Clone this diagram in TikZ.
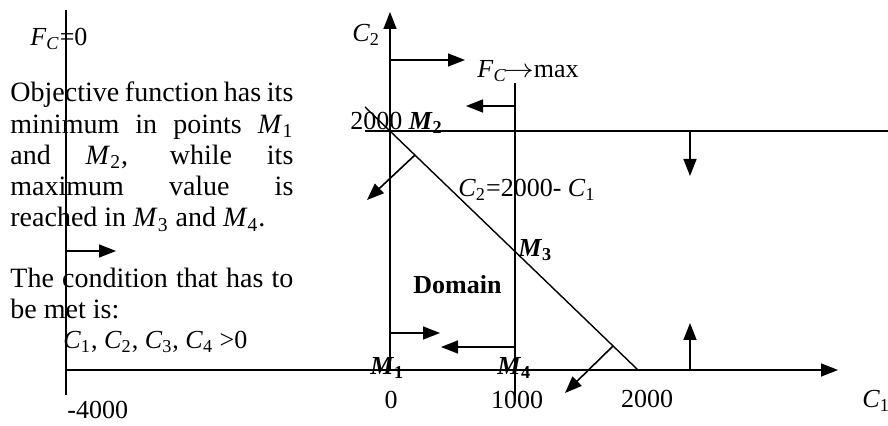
\documentclass[tikz,border=0pt]{standalone}
\usepackage{fontspec}
\setmainfont{Liberation Serif}
\usetikzlibrary{arrows.meta}
\newcommand\myMb[1]{\textbf{\textit{M}}\textsubscript{\textbf{#1}}}
\newcommand\myM[1]{\textit{M}\textsubscript{#1}}
\newcommand\myC[1]{\textit{C}\textsubscript{#1}}
\newcommand\myF{\textit{F}\textsubscript{\textit{C}}}
\tikzset{
  lbl/.style={inner sep=0pt, anchor=base west, font=\fontsize{13}{15.5}\selectfont},
  tlbl/.style={inner sep=0pt, anchor=base west, font=\fontsize{14}{15.5}\selectfont},
  clbl/.style={inner sep=0pt, anchor=base, font=\fontsize{13}{15.5}\selectfont},
  ln/.style={line width=0.8pt},
  arr/.style={line width=0.8pt, -{Triangle[length=8.5pt,width=6.5pt]}},
}
\newcommand\jline[1]{\makebox[141.5pt][s]{#1}}
\begin{document}
\begin{tikzpicture}[x=0.5pt,y=-0.5pt]
\useasboundingbox (0,0) rectangle (888,426);
% named points
\coordinate (Ltop) at (66,10);
\coordinate (Lbot) at (66,395);
\coordinate (Xs) at (66,370);
\coordinate (Xe) at (838,370);
\coordinate (O) at (390,370);
\coordinate (Ytop) at (390,12);
\coordinate (Vt) at (515,83);
\coordinate (Vb) at (515,400);
\coordinate (Hs) at (365,131);
\coordinate (He) at (888,131);
\coordinate (Ds) at (365,107);
\coordinate (De) at (638,370);
% arrow points
\coordinate (a1s) at (390,60);   \coordinate (a1e) at (465,60);
\coordinate (a2s) at (515,106);  \coordinate (a2e) at (466,106);
\coordinate (a3s) at (690,131);  \coordinate (a3e) at (690,176);
\coordinate (a4s) at (415,155);  \coordinate (a4e) at (367,200);
\coordinate (a5s) at (66,251);   \coordinate (a5e) at (116,251);
\coordinate (a6s) at (390,333);  \coordinate (a6e) at (440,333);
\coordinate (a7s) at (515,347);  \coordinate (a7e) at (441,347);
\coordinate (a8s) at (613,346);  \coordinate (a8e) at (565,393);
\coordinate (a9s) at (690,370);  \coordinate (a9e) at (690,323);
% lines
\draw[ln] (Ltop) -- (Lbot);
\draw[arr] (Xs) -- (Xe);
\draw[arr] (O) -- (Ytop);
\draw[ln] (Vt) -- (Vb);
\draw[ln] (Hs) -- (He);
\draw[line width=0.7pt] (Ds) -- (De);
\foreach \i in {1,...,9} {\draw[arr] (a\i s) -- (a\i e);}
% left text
\node[lbl] (fc0) at (30,46) {\myF=0};
\node[tlbl] (t1) at (10,102) {\jline{Objective function has its}};
\node[tlbl] (t2) at (10,133.2) {\jline{minimum in points \myM{1}}};
\node[tlbl] (t3) at (10,164.4) {\jline{and \myM{2}, while its}};
\node[tlbl] (t4) at (10,195.6) {\jline{maximum value is}};
\node[tlbl] (t5) at (10,226.8) {reached in \myM{3} and \myM{4}.};
\node[tlbl] (t6) at (10,287.5) {\jline{The condition that has to}};
\node[tlbl] (t7) at (10,318.5) {be met is:};
\node[lbl] (cond) at (63,349) {\myC{1}, \myC{2}, \myC{3}, \myC{4} >0};
\node[lbl] (m4000) at (67,419) {-4000};
% plot labels
\node[lbl] (c2lab) at (352,42) {\myC{2}};
\node[lbl] (fcmax) at (477,78) {\myF\kern-1.5pt\scalebox{1.25}[1.1]{$\rightarrow$}max};
\node[lbl] (m2) at (350,130) {2000 \myMb{2}};
\node[lbl] (eq) at (458,197) {\myC{2}=2000- \myC{1}};
\node[lbl] (m3) at (518,257) {\myMb{3}};
\node[lbl] (dom) at (413,294) {\textbf{Domain}};
\node[lbl] (m1) at (370,375) {\myMb{1}};
\node[lbl] (m4) at (497,375) {\myMb{4}};
\node[clbl] (x0) at (391,409) {0};
\node[clbl] (x1000) at (517,409) {1000};
\node[clbl] (x2000) at (647,408) {2000};
\node[lbl] (c1lab) at (862,408) {\myC{1}};
\end{tikzpicture}
\end{document}
